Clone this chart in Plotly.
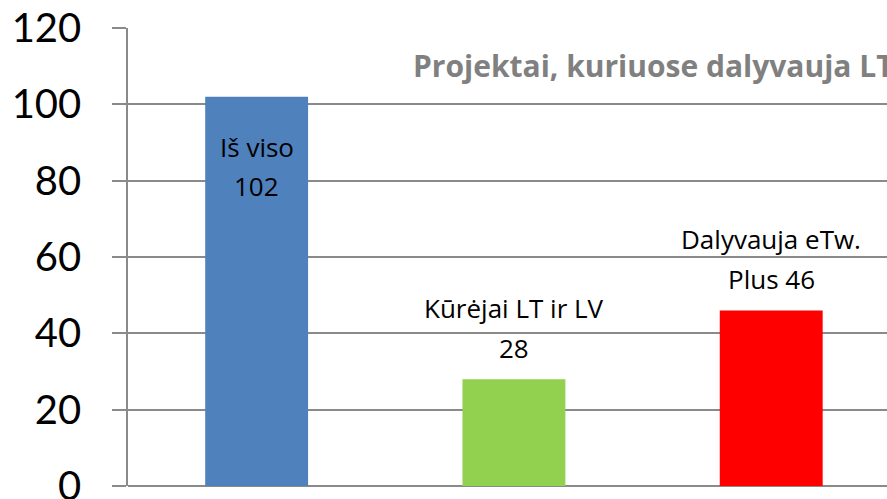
import plotly.graph_objects as go

categories = ["Iš viso", "Kūrėjai LT ir LV", "Dalyvauja eTw. Plus"]
values = [102, 28, 46]
line1 = ["Iš viso", "Kūrėjai LT ir LV", "Dalyvauja eTw."]
line2_prefix = ["", "", "Plus "]
colors = ["#4f81bd", "#92d050", "#ff0000"]
y_ticks = [0, 20, 40, 60, 80, 100, 120]
title_text = "Projektai, kuriuose dalyvauja LT"

x_idx = list(range(len(categories)))

fig = go.Figure()
fig.add_trace(go.Bar(
    x=x_idx, y=values, marker=dict(color=colors, line=dict(width=0)),
    width=0.4, showlegend=False, hoverinfo="skip"
))

grid = "#8a8a8a"
TICKFONT = "Lato"
TEXTFONT = "Open Sans"
# label placement: inside for first bar, above for others
shifts = [(-70, -109), (51, 11), (51, 11)]
annotations = []
for i, v in enumerate(values):
    s1, s2 = shifts[i]
    annotations.append(dict(x=i, y=v, xref="x", yref="y", text=line1[i],
                            showarrow=False, yanchor="bottom", yshift=s1,
                            font=dict(family=TEXTFONT, size=26, color="black")))
    annotations.append(dict(x=i, y=v, xref="x", yref="y", text=line2_prefix[i] + str(v),
                            showarrow=False, yanchor="bottom", yshift=s2,
                            font=dict(family=TEXTFONT, size=26, color="black")))

annotations.append(dict(x=0.3735, y=110.3, xref="paper", yref="y", text="<b>" + title_text + "</b>",
                        showarrow=False, xanchor="left", yanchor="middle",
                        font=dict(family=TEXTFONT, size=30, color="#808080")))

fig.update_layout(
    width=887, height=499,
    margin=dict(l=128, r=0, t=28, b=13, autoexpand=False),
    paper_bgcolor="white", plot_bgcolor="white",
    annotations=annotations,
    xaxis=dict(range=[-0.5, 2.45], showticklabels=False, showgrid=False, zeroline=False,
               ticks="", showline=False, automargin=False),
    yaxis=dict(range=[0, 120], tickvals=y_ticks, showgrid=True, gridcolor=grid, gridwidth=1.5,
               zeroline=True, zerolinecolor=grid, zerolinewidth=1.5,
               showline=True, linecolor=grid, linewidth=1.5,
               ticks="outside", ticklen=14, tickcolor=grid, tickwidth=1.5,
               ticklabelstandoff=23, ticklabeloverflow="allow", automargin=False,
               tickfont=dict(family=TICKFONT, size=40, color="black")),
)

fig.write_html("out.html", config={"displayModeBar": False},
               post_script="document.body.style.margin='0';")
